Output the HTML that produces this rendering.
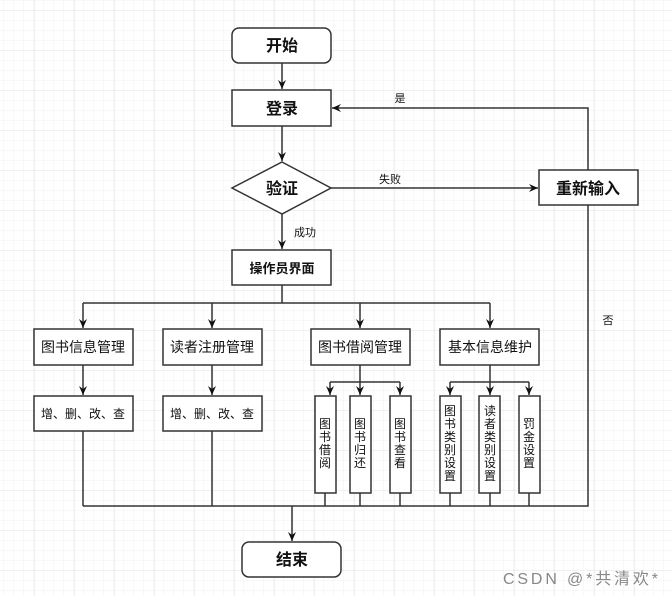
<!DOCTYPE html>
<html><head><meta charset="utf-8"><style>
html,body{margin:0;padding:0;background:#fff}
svg{display:block}
text{font-family:"Liberation Sans","Noto Sans CJK SC",sans-serif;fill:#111}
</style></head><body>
<svg width="672" height="596" viewBox="0 0 672 596" xmlns="http://www.w3.org/2000/svg">
<defs>
<pattern id="g" width="10" height="10" patternUnits="userSpaceOnUse" x="3" y="0">
<path d="M0 0H10M0 0V10" stroke="#f0f0f0" stroke-width="1" fill="none"/></pattern>
<pattern id="G" width="40" height="40" patternUnits="userSpaceOnUse" x="34" y="10">
<path d="M0 0H40M0 0V40" stroke="#e2e2e2" stroke-width="1" fill="none"/></pattern>
<marker id="a" markerWidth="10" markerHeight="10" refX="9" refY="5" orient="auto" markerUnits="userSpaceOnUse">
<path d="M0 1L9 5L0 9L3 5Z" fill="#111"/></marker>
</defs>
<rect width="672" height="596" fill="url(#g)"/>
<rect width="672" height="596" fill="url(#G)"/>
<g stroke="#333" stroke-width="1.5" fill="none">
<line x1="282" y1="63" x2="282" y2="89" marker-end="url(#a)"/>
<line x1="282" y1="126" x2="282" y2="161" marker-end="url(#a)"/>
<line x1="282" y1="214" x2="282" y2="249" marker-end="url(#a)"/>
<line x1="331" y1="188" x2="538" y2="188" marker-end="url(#a)"/>
<polyline points="588,170 588,108 332,108" marker-end="url(#a)"/>
<polyline points="588,205 588,506 83,506"/>
<line x1="282" y1="285" x2="282" y2="303"/>
<line x1="83" y1="303" x2="490" y2="303"/>
<line x1="83" y1="303" x2="83" y2="328" marker-end="url(#a)"/>
<line x1="212" y1="303" x2="212" y2="328" marker-end="url(#a)"/>
<line x1="360" y1="303" x2="360" y2="328" marker-end="url(#a)"/>
<line x1="490" y1="303" x2="490" y2="328" marker-end="url(#a)"/>
<line x1="83" y1="365" x2="83" y2="395" marker-end="url(#a)"/>
<line x1="212" y1="365" x2="212" y2="395" marker-end="url(#a)"/>
<line x1="83" y1="431" x2="83" y2="506"/>
<line x1="212" y1="431" x2="212" y2="506"/>
<line x1="360" y1="365" x2="360" y2="382"/>
<line x1="330" y1="382" x2="400" y2="382"/>
<line x1="330" y1="382" x2="330" y2="395" marker-end="url(#a)"/>
<line x1="360" y1="382" x2="360" y2="395" marker-end="url(#a)"/>
<line x1="400" y1="382" x2="400" y2="395" marker-end="url(#a)"/>
<line x1="490" y1="365" x2="490" y2="382"/>
<line x1="450" y1="382" x2="529" y2="382"/>
<line x1="450" y1="382" x2="450" y2="395" marker-end="url(#a)"/>
<line x1="490" y1="382" x2="490" y2="395" marker-end="url(#a)"/>
<line x1="529" y1="382" x2="529" y2="395" marker-end="url(#a)"/>
<line x1="325" y1="493" x2="325" y2="506"/>
<line x1="360" y1="493" x2="360" y2="506"/>
<line x1="400" y1="493" x2="400" y2="506"/>
<line x1="450" y1="493" x2="450" y2="506"/>
<line x1="490" y1="493" x2="490" y2="506"/>
<line x1="529" y1="493" x2="529" y2="506"/>
<line x1="292" y1="506" x2="292" y2="541" marker-end="url(#a)"/>
</g>
<g stroke="#333" stroke-width="1.5" fill="#fff">
<rect x="232" y="28" width="99" height="35" rx="7"/>
<rect x="232" y="90" width="99" height="36"/>
<polygon points="282,162 331,188 282,214 232,188"/>
<rect x="232" y="250" width="99" height="35"/>
<rect x="539" y="170" width="99" height="35"/>
<rect x="34" y="329" width="99" height="36"/>
<rect x="163" y="329" width="99" height="36"/>
<rect x="311" y="329" width="99" height="36"/>
<rect x="440" y="329" width="99" height="36"/>
<rect x="34" y="396" width="99" height="35"/>
<rect x="163" y="396" width="99" height="35"/>
<rect x="315" y="396" width="21" height="97"/>
<rect x="350" y="396" width="21" height="97"/>
<rect x="390" y="396" width="21" height="97"/>
<rect x="440" y="396" width="21" height="97"/>
<rect x="479" y="396" width="21" height="97"/>
<rect x="519" y="396" width="21" height="97"/>
<rect x="242" y="542" width="99" height="35" rx="7"/>
</g>
<g font-weight="bold" font-size="16" text-anchor="middle">
<text x="282" y="51">开始</text>
<text x="282" y="114">登录</text>
<text x="282" y="194">验证</text>
<text x="588" y="194">重新输入</text>
<text x="292" y="565">结束</text>
<text x="282" y="273" font-size="13">操作员界面</text>
</g>
<g font-size="14" text-anchor="middle">
<text x="83" y="352">图书信息管理</text>
<text x="212" y="352">读者注册管理</text>
<text x="360" y="352">图书借阅管理</text>
<text x="490" y="352">基本信息维护</text>
<text x="83" y="418" font-size="12">增、删、改、查</text>
<text x="212" y="418" font-size="12">增、删、改、查</text>
</g>
<g font-size="11" fill="#333" text-anchor="middle">
<text x="305" y="236">成功</text>
<text x="390" y="183">失败</text>
<text x="400" y="102">是</text>
<text x="608" y="324">否</text>
</g>
<g font-size="12" text-anchor="middle">
<text x="325" y="428">图</text><text x="325" y="441">书</text><text x="325" y="454">借</text><text x="325" y="467">阅</text>
<text x="360" y="428">图</text><text x="360" y="441">书</text><text x="360" y="454">归</text><text x="360" y="467">还</text>
<text x="400" y="428">图</text><text x="400" y="441">书</text><text x="400" y="454">查</text><text x="400" y="467">看</text>
<text x="450" y="415">图</text><text x="450" y="428">书</text><text x="450" y="441">类</text><text x="450" y="454">别</text><text x="450" y="467">设</text><text x="450" y="480">置</text>
<text x="490" y="415">读</text><text x="490" y="428">者</text><text x="490" y="441">类</text><text x="490" y="454">别</text><text x="490" y="467">设</text><text x="490" y="480">置</text>
<text x="529" y="428">罚</text><text x="529" y="441">金</text><text x="529" y="454">设</text><text x="529" y="467">置</text>
</g>
<text x="503" y="584" font-size="16" style="fill:#888" textLength="155">CSDN @*共清欢*</text>
</svg>
</body></html>
